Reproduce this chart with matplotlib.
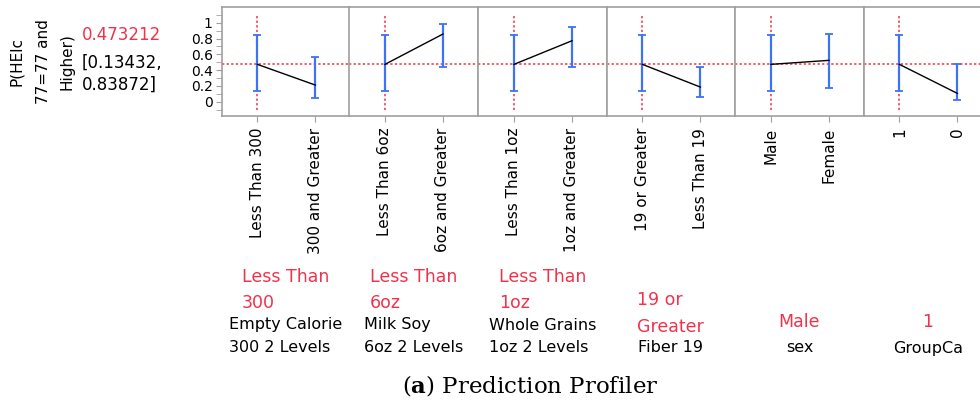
import numpy as np
import matplotlib.pyplot as plt

base_pred = 0.473212
base_lo = 0.13432
base_hi = 0.83872

lvl_first = ["Less Than 300", "Less Than 6oz", "Less Than 1oz", "19 or Greater", "Male", "1"]
lvl_second = ["300 and Greater", "6oz and Greater", "1oz and Greater", "Less Than 19", "Female", "0"]
pred_second = [0.211, 0.857, 0.772, 0.186, 0.524, 0.106]
upper_second = [0.566, 0.987, 0.941, 0.439, 0.861, 0.473]
lower_second = [0.051, 0.439, 0.439, 0.063, 0.173, 0.021]

current_lvl = [["Less Than", "300"], ["Less Than", "6oz"], ["Less Than", "1oz"],
               ["19 or", "Greater"], ["Male"], ["1"]]
factor_names = [["Empty Calorie", "300 2 Levels"], ["Milk Soy", "6oz 2 Levels"],
                ["Whole Grains", "1oz 2 Levels"], ["Fiber 19"], ["sex"], ["GroupCa"]]

RED = "#f0324b"
BLUE = "#3d74f5"
GRAY = "#a0a0a0"
W, H = 980, 403

plt.rcParams["mathtext.fontset"] = "dejavuserif"
fig = plt.figure(figsize=(W / 100, H / 100), dpi=100)


def fx(x):
    return x / W


def fy(y):
    return 1 - y / H


panel_left = [221.7, 349.3, 478.3, 606.7, 735.3, 863.7]
panel_w = 128.3
top, bottom = 7.3, 116.0

for i in range(6):
    ax = fig.add_axes([fx(panel_left[i]), fy(bottom), panel_w / W, (bottom - top) / H])
    ax.set_xlim(-0.615, 1.597)
    ax.set_ylim(-0.18, 1.195)

    # reference lines at the current setting
    ax.axhline(base_pred, color=RED, ls=(0, (1.5, 1.5)), lw=1.1, zorder=1)
    ax.plot([0, 0], [-0.105, 1.11], color=RED, ls=(0, (1.5, 1.5)), lw=1.1, zorder=1)

    xs = [0, 1]
    ys = [base_pred, pred_second[i]]
    lo = [base_pred - base_lo, pred_second[i] - lower_second[i]]
    hi = [base_hi - base_pred, upper_second[i] - pred_second[i]]
    ax.errorbar(xs, ys, yerr=[lo, hi], fmt="none", ecolor=BLUE, elinewidth=1.6,
                capsize=3, capthick=1.3, zorder=2)
    ax.plot(xs, ys, color="black", lw=1, zorder=3)

    for s in ax.spines.values():
        s.set_color(GRAY)
        s.set_linewidth(1.2)

    ax.set_xticks(xs)
    ax.set_xticklabels([lvl_first[i], lvl_second[i]], rotation=90, fontsize=11)
    ax.tick_params(axis="x", direction="out", length=4, color=GRAY, pad=4.5)

    if i == 0:
        ax.set_yticks(np.arange(-0.1, 1.15, 0.1), minor=True)
        ax.set_yticks([0, 0.2, 0.4, 0.6, 0.8, 1.0])
        ax.set_yticklabels(["0", "0.2", "0.4", "0.6", "0.8", "1"], fontsize=10)
        ax.tick_params(axis="y", which="both", direction="out", length=4,
                       color=GRAY, pad=2.5)
    else:
        ax.set_yticks([])

# y label and current prediction
ylab_x = [16.7, 43.3, 66.7]
for j, line in enumerate(["P(HElc", "77=77 and", "Higher)"]):
    fig.text(fx(ylab_x[j]), fy(62), line, rotation=90, fontsize=11,
             ha="center", va="center")
fig.text(fx(82), fy(35), f"{base_pred:.6f}", color=RED, fontsize=12, ha="left", va="center")
fig.text(fx(82), fy(63), f"[{base_lo},", fontsize=12, ha="left", va="center")
fig.text(fx(82), fy(85), f"{base_hi}]", fontsize=12, ha="left", va="center")

# current levels (red) and factor names under each panel
red_rows = [[277, 303], [277, 303], [277, 303], [300, 327], [322], [322]]
for i in range(6):
    cx = panel_left[i] + panel_w / 2
    lines = current_lvl[i]
    t = fig.text(0, 0, max(lines, key=len), fontsize=12.5, alpha=0)
    fig.canvas.draw()
    left_x = cx - t.get_window_extent().width / 2
    t.remove()
    for k, line in enumerate(lines):
        fig.text(fx(left_x), fy(red_rows[i][k]), line, color=RED, fontsize=12.5,
                 ha="left", va="center")

    names = factor_names[i]
    rows = [325, 348][-len(names):]
    t = fig.text(0, 0, max(names, key=len), fontsize=11.5, alpha=0)
    fig.canvas.draw()
    left_x = cx - t.get_window_extent().width / 2
    t.remove()
    for k, line in enumerate(names):
        fig.text(fx(left_x), fy(rows[k]), line, fontsize=11.5, ha="left", va="center")

fig.text(fx(530), fy(385), r"($\mathbf{a}$) Prediction Profiler", family="DejaVu Serif",
         fontsize=16.5, ha="center", va="center")

fig.savefig("out.png", dpi=100)
